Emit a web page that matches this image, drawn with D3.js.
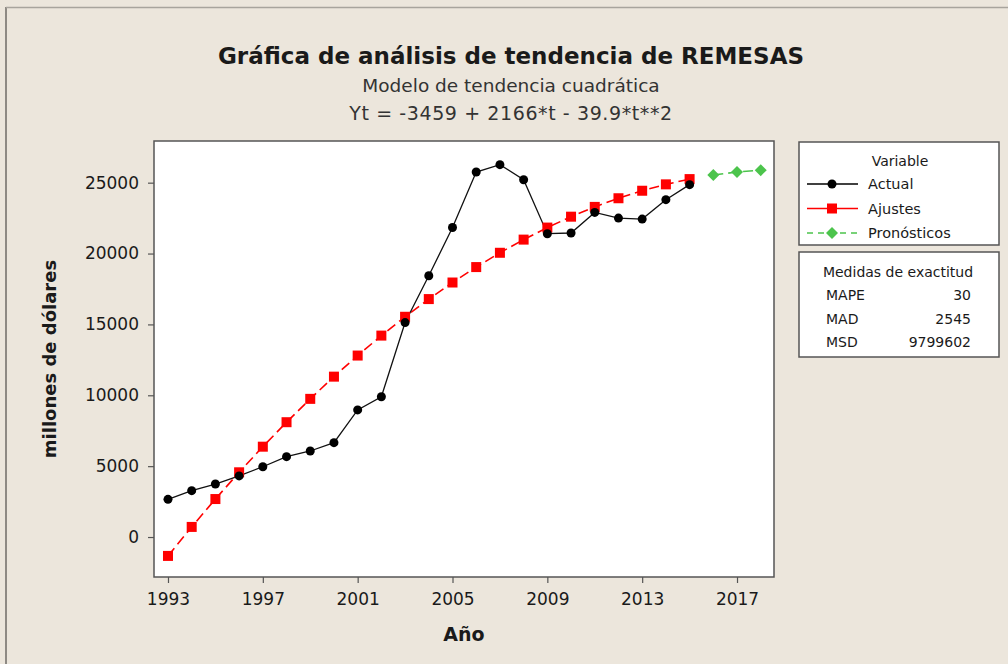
<!DOCTYPE html>
<html>
<head>
<meta charset="utf-8">
<script src="https://cdn.jsdelivr.net/npm/d3@7"></script>
<style>
  body { margin: 0; background: #ece6dc; }
  svg { display: block; }
  text { font-family: "DejaVu Sans", Tahoma, sans-serif; fill: #1a1a1a; }
</style>
</head>
<body>
<svg id="chart" width="1008" height="664"></svg>
<script>
// data
var years = [1993,1994,1995,1996,1997,1998,1999,2000,2001,2002,2003,2004,2005,2006,2007,2008,2009,2010,2011,2012,2013,2014,2015];
var actual = [2660,3270,3740,4310,4960,5670,6070,6660,8970,9900,15130,18430,21840,25750,26270,25210,21400,21450,22900,22500,22430,23800,24860];
var fitted = [-1333,713,2680,4567,6374,8101,9748,11315,12803,14211,15539,16787,17956,19045,20054,20983,21832,22601,23291,23901,24431,24881,25252];
var forecastYears = [2016,2017,2018];
var forecast = [25543,25754,25885];
var xTicks = [1993,1997,2001,2005,2009,2013,2017];
var yTicks = [0,5000,10000,15000,20000,25000];
var accuracy = [["MAPE","30"],["MAD","2545"],["MSD","9799602"]];

var svg = d3.select("#chart");

// outer frame
svg.append("line").attr("x1",6).attr("x2",6).attr("y1",7).attr("y2",664).attr("stroke","#8e8a84").attr("stroke-width",2);
svg.append("line").attr("x1",6).attr("x2",1008).attr("y1",7.5).attr("y2",7.5).attr("stroke","#a8a49d").attr("stroke-width",1.5);

var pLeft = 154, pRight = 774, pTop = 141, pBottom = 577;

var x = d3.scaleLinear().domain([1992.41, 2018.56]).range([pLeft, pRight]);
var y = d3.scaleLinear().domain([-2820, 27940]).range([pBottom, pTop]);

// plot area
svg.append("rect").attr("x",pLeft).attr("y",pTop).attr("width",pRight-pLeft).attr("height",pBottom-pTop)
  .attr("fill","#fff").attr("stroke","#555").attr("stroke-width",1.5);

// titles
var cx = 511;
svg.append("text").attr("x",cx).attr("y",64).attr("text-anchor","middle")
  .style("font-size","23px").style("font-weight","bold").text("Gráfica de análisis de tendencia de REMESAS");
svg.append("text").attr("x",cx).attr("y",92).attr("text-anchor","middle")
  .style("font-size","18.5px").style("fill","#333").text("Modelo de tendencia cuadrática");
svg.append("text").attr("x",cx).attr("y",120).attr("text-anchor","middle")
  .style("font-size","19px").style("fill","#333").style("letter-spacing","0.6px").text("Yt = -3459 + 2166*t - 39.9*t**2");

// axes
var xAxis = svg.append("g").attr("transform","translate(0,"+pBottom+")")
  .call(d3.axisBottom(x).tickValues(xTicks).tickFormat(d3.format("d")).tickSize(6).tickPadding(10));
var yAxis = svg.append("g").attr("transform","translate("+pLeft+",0)")
  .call(d3.axisLeft(y).tickValues(yTicks).tickFormat(d3.format("d")).tickSize(6).tickPadding(9));
[xAxis, yAxis].forEach(function(a){
  a.select(".domain").remove();
  a.selectAll("line").attr("stroke","#555").attr("stroke-width",1.2);
  a.selectAll("text").style("font-size","17px").attr("fill","#222");
});

svg.append("text").attr("x",(pLeft+pRight)/2).attr("y",641).attr("text-anchor","middle")
  .style("font-size","19px").style("font-weight","bold").text("Año");
svg.append("text").attr("transform","translate(56,"+ (pTop+pBottom)/2 +") rotate(-90)").attr("text-anchor","middle")
  .style("font-size","18px").style("font-weight","bold").text("millones de dólares");

// series
var line = d3.line().x(function(d){return x(d[0]);}).y(function(d){return y(d[1]);});
var actualPts = d3.zip(years, actual);
var fittedPts = d3.zip(years, fitted);
var forecastPts = d3.zip(forecastYears, forecast);

svg.append("path").datum(fittedPts).attr("d",line).attr("fill","none")
  .attr("stroke","#ff0000").attr("stroke-width",1.6).attr("stroke-dasharray","10,5");
svg.append("path").datum(forecastPts).attr("d",line).attr("fill","none")
  .attr("stroke","#4cc44c").attr("stroke-width",1.6).attr("stroke-dasharray","10,5");
svg.append("path").datum(actualPts).attr("d",line).attr("fill","none")
  .attr("stroke","#111").attr("stroke-width",1.3);

svg.append("g").selectAll("rect").data(fittedPts).join("rect")
  .attr("x",function(d){return x(d[0])-5;}).attr("y",function(d){return y(d[1])-5;})
  .attr("width",10).attr("height",10).attr("fill","#ff0000");
svg.append("g").selectAll("circle").data(actualPts).join("circle")
  .attr("cx",function(d){return x(d[0]);}).attr("cy",function(d){return y(d[1]);})
  .attr("r",4.5).attr("fill","#000");
var diamond = d3.symbol().type(d3.symbolSquare).size(72);
svg.append("g").selectAll("path").data(forecastPts).join("path")
  .attr("transform",function(d){return "translate("+x(d[0])+","+y(d[1])+") rotate(45)";})
  .attr("d",diamond).attr("fill","#4cc44c");

// legend
var lg = svg.append("g");
lg.append("rect").attr("x",799).attr("y",142).attr("width",200).attr("height",103)
  .attr("fill","#fff").attr("stroke","#555").attr("stroke-width",1.5);
lg.append("text").attr("x",900).attr("y",166).attr("text-anchor","middle").style("font-size","14px").text("Variable");
var legendItems = [
  {name:"Actual", color:"#000", dash:null, shape:"circle"},
  {name:"Ajustes", color:"#ff0000", dash:null, shape:"square"},
  {name:"Pronósticos", color:"#4cc44c", dash:"6,5", shape:"diamond"}
];
legendItems.forEach(function(it,i){
  var yy = 184 + i*24.5;
  lg.append("line").attr("x1",807).attr("x2",858).attr("y1",yy).attr("y2",yy)
    .attr("stroke",it.color).attr("stroke-width",1.3).attr("stroke-dasharray",it.dash);
  if (it.shape=="circle") lg.append("circle").attr("cx",832).attr("cy",yy).attr("r",4.5).attr("fill",it.color);
  if (it.shape=="square") lg.append("rect").attr("x",827).attr("y",yy-5).attr("width",10).attr("height",10).attr("fill",it.color);
  if (it.shape=="diamond") lg.append("path").attr("transform","translate(832,"+yy+") rotate(45)").attr("d",diamond).attr("fill",it.color);
  lg.append("text").attr("x",868).attr("y",yy+5).style("font-size","14.5px").text(it.name);
});

var ag = svg.append("g");
ag.append("rect").attr("x",799).attr("y",252).attr("width",200).attr("height",105)
  .attr("fill","#fff").attr("stroke","#555").attr("stroke-width",1.5);
ag.append("text").attr("x",898).attr("y",277).attr("text-anchor","middle").style("font-size","14px").text("Medidas de exactitud");
accuracy.forEach(function(r,i){
  var yy = 300 + i*23.5;
  ag.append("text").attr("x",826).attr("y",yy).style("font-size","14px").text(r[0]);
  ag.append("text").attr("x",971).attr("y",yy).attr("text-anchor","end").style("font-size","14px").text(r[1]);
});
</script>
</body>
</html>
